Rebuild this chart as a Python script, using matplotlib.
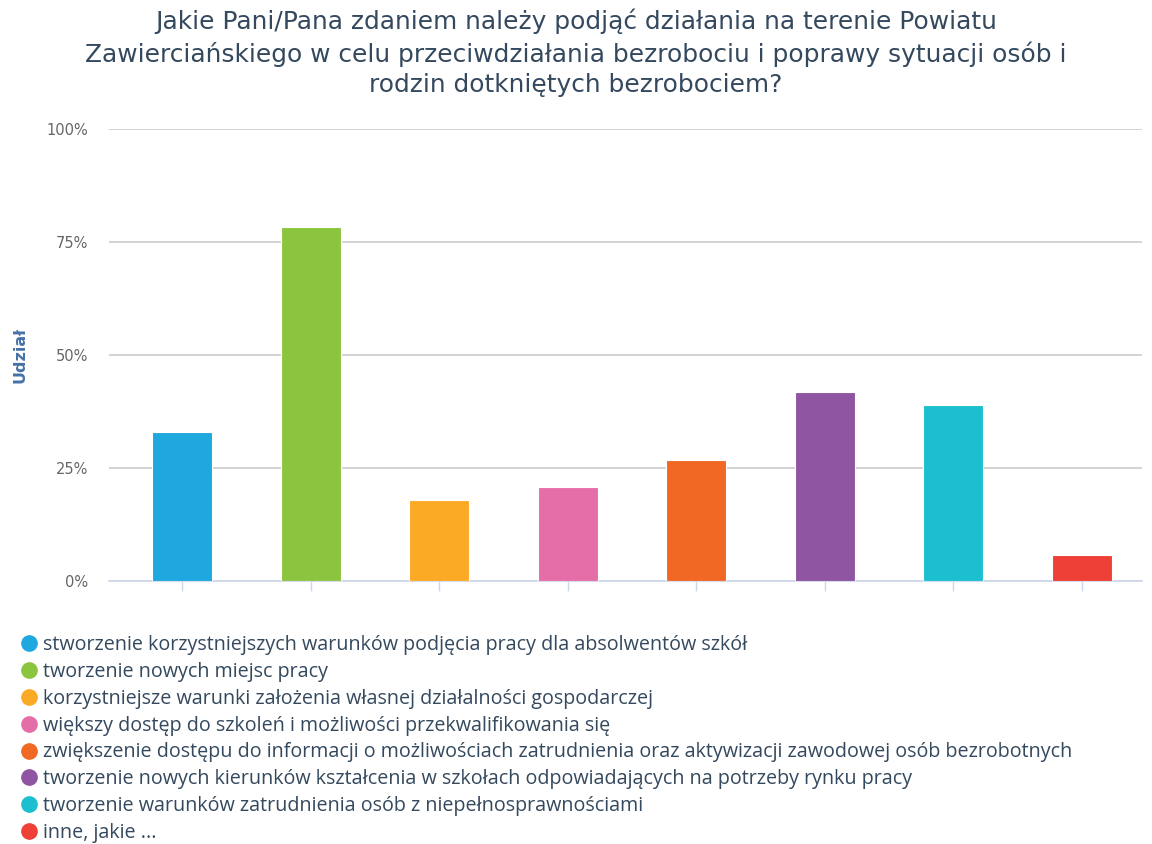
import matplotlib
matplotlib.use("Agg")
import matplotlib.pyplot as plt
from matplotlib.lines import Line2D
from matplotlib.ticker import FuncFormatter

categories = [
    "stworzenie korzystniejszych warunków podjęcia pracy dla absolwentów szkół",
    "tworzenie nowych miejsc pracy",
    "korzystniejsze warunki założenia własnej działalności gospodarczej",
    "większy dostęp do szkoleń i możliwości przekwalifikowania się",
    "zwiększenie dostępu do informacji o możliwościach zatrudnienia oraz aktywizacji zawodowej osób bezrobotnych",
    "tworzenie nowych kierunków kształcenia w szkołach odpowiadających na potrzeby rynku pracy",
    "tworzenie warunków zatrudnienia osób z niepełnosprawnościami",
    "inne, jakie ...",
]
values = [33.0, 78.3, 17.9, 20.8, 26.8, 41.8, 38.9, 5.8]
colors = ["#1fa8e0", "#8bc53f", "#fbaa26", "#e66ea8", "#f06823", "#8f55a2", "#1bbfd0", "#ee4037"]
yticks = [0, 25, 50, 75, 100]

title = ("Jakie Pani/Pana zdaniem należy podjąć działania na terenie Powiatu\n"
         "Zawierciańskiego w celu przeciwdziałania bezrobociu i poprawy sytuacji osób i\n"
         "rodzin dotkniętych bezrobociem?")

plt.rcParams["font.family"] = ["DejaVu Sans"]

fig = plt.figure(figsize=(11.52, 8.44), dpi=100)
ax = fig.add_axes([109/1152, 1-581/844, (1142-109)/1152, (581-129)/844])

x = list(range(len(values)))
ax.bar(x, values, width=0.467, color=colors, edgecolor="white", linewidth=0.8, zorder=3)
ax.set_xlim(-0.568, 7.467)
ax.set_ylim(0, 100)
ax.set_yticks(yticks)
ax.yaxis.set_major_formatter(FuncFormatter(lambda v, p: f"{int(v)}%"))
ax.set_xticks(x)
ax.set_xticklabels([])
ax.grid(axis="y", color="#cccccc", linewidth=1.2, zorder=0)
for s in ["top", "right", "left"]:
    ax.spines[s].set_visible(False)
ax.spines["bottom"].set_color("#ccd6eb")
ax.spines["bottom"].set_linewidth(1.2)
ax.tick_params(axis="y", length=0, labelsize=10.5, labelcolor="#666666", pad=15)
ax.tick_params(axis="x", length=7, color="#ccd6eb", width=1)
fig.text(20/1152, 1-355/844, "Udział", rotation=90, ha="center", va="center",
         fontsize=11.5, fontweight="bold", color="#4572a7")

fig.text(0.5, 1-9/844, title, ha="center", va="top", fontsize=17.9, color="#34495e",
         linespacing=1.33)

handles = [Line2D([0], [0], marker="o", linestyle="none", markersize=11,
                  markerfacecolor=c, markeredgecolor=c) for c in colors]
leg = fig.legend(handles, categories, loc="upper left", bbox_to_anchor=(5/1152, 1-625/844),
                 frameon=False, prop={"family": "Open Sans", "size": 14.2},
                 labelspacing=0.35, handletextpad=0.05, borderpad=0, handlelength=1.4)
for t in leg.get_texts():
    t.set_color("#34495e")

fig.savefig("out.png", dpi=100)
